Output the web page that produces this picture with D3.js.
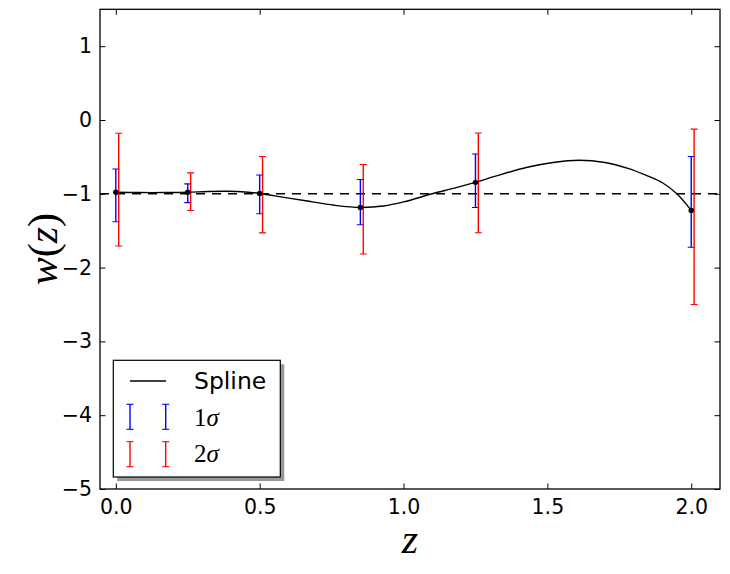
<!DOCTYPE html>
<html>
<head>
<meta charset="utf-8">
<script src="https://cdn.jsdelivr.net/npm/d3@7"></script>
<style>
  html, body { margin: 0; padding: 0; background: #fff; }
  svg { display: block; }
</style>
</head>
<body>
<svg id="chart" width="730" height="574"></svg>
<script>
// ---- data ----
const zNodes   = [0.0, 0.25, 0.5, 0.85, 1.25, 2.0];
const wNodes   = [-0.98, -0.98, -0.995, -1.185, -0.845, -1.225];
const sig1Lo   = [-1.378, -1.12, -1.27, -1.42, -1.185, -1.724];
const sig1Hi   = [-0.663, -0.866, -0.745, -0.807, -0.46, -0.495];
const sig2Lo   = [-1.707, -1.226, -1.53, -1.815, -1.528, -2.5];
const sig2Hi   = [-0.18, -0.717, -0.495, -0.603, -0.177, -0.124];
const sig2Shift = 0.01;

const splineZ = [0.0, 0.08, 0.17, 0.25, 0.32, 0.39, 0.45, 0.5, 0.58, 0.66, 0.76, 0.85, 0.93, 1.0, 1.1, 1.18, 1.25, 1.32, 1.43, 1.52, 1.61, 1.7, 1.78, 1.85, 1.9, 1.95, 2.0];
const splineW = [-0.98, -0.983, -0.983, -0.98, -0.968, -0.965, -0.975, -0.995, -1.045, -1.095, -1.155, -1.185, -1.165, -1.11, -1.0, -0.92, -0.845, -0.76, -0.64, -0.575, -0.545, -0.575, -0.655, -0.76, -0.85, -1.0, -1.225];

const referenceW = -1;
const xTicks = [0.0, 0.5, 1.0, 1.5, 2.0];
const yTicks = [-5, -4, -3, -2, -1, 0, 1];
const xDomain = [-0.055, 2.1];
const yDomain = [-5, 1.5];

// ---- layout ----
const svg = d3.select("#chart");
const L = 100, R = 720, T = 9.3, B = 489;
const x = d3.scaleLinear().domain(xDomain).range([L, R]);
const y = d3.scaleLinear().domain(yDomain).range([B, T]);

svg.append("rect").attr("width", 730).attr("height", 574).attr("fill", "#fff");

const defs = svg.append("defs");
defs.append("clipPath").attr("id", "clip")
  .append("rect").attr("x", L).attr("y", T).attr("width", R - L).attr("height", B - T);

const plot = svg.append("g").attr("clip-path", "url(#clip)");

// dashed reference line
plot.append("line")
  .attr("x1", L).attr("x2", R)
  .attr("y1", y(referenceW)).attr("y2", y(referenceW))
  .attr("stroke", "#000").attr("stroke-width", 1.4)
  .attr("stroke-dasharray", "9,7");

// error bars
function errorBars(lo, hi, shift, color) {
  const g = plot.append("g");
  zNodes.forEach((z, i) => {
    const xc = x(z + shift);
    g.append("line").attr("x1", xc).attr("x2", xc)
      .attr("y1", y(lo[i])).attr("y2", y(hi[i]))
      .attr("stroke", color).attr("stroke-width", 1.4);
    [lo[i], hi[i]].forEach(v => {
      g.append("line").attr("x1", xc - 3.5).attr("x2", xc + 3.5)
        .attr("y1", y(v)).attr("y2", y(v))
        .attr("stroke", color).attr("stroke-width", 1.1);
    });
  });
}
errorBars(sig1Lo, sig1Hi, 0, "#0000ff");
errorBars(sig2Lo, sig2Hi, sig2Shift, "#ff0000");

// spline
const splinePts = splineZ.map((z, i) => [z, splineW[i]]);
plot.append("path")
  .datum(splinePts)
  .attr("fill", "none").attr("stroke", "#000").attr("stroke-width", 1.4)
  .attr("d", d3.line().x(d => x(d[0])).y(d => y(d[1])).curve(d3.curveCatmullRom.alpha(0.5)));

// node points
plot.selectAll("circle.node").data(zNodes).join("circle")
  .attr("class", "node")
  .attr("cx", d => x(d)).attr("cy", (d, i) => y(wNodes[i]))
  .attr("r", 2.7).attr("fill", "#000");

// ---- frame & axes ----
const tickLen = 5.5;
const axisFont = "'DejaVu Sans', sans-serif";
const fmtX = d3.format(".1f");

const xAxisB = d3.axisBottom(x).tickValues(xTicks).tickSize(-tickLen).tickPadding(10).tickFormat(fmtX);
const xAxisT = d3.axisTop(x).tickValues(xTicks).tickSize(-tickLen).tickFormat("");
const yAxisL = d3.axisLeft(y).tickValues(yTicks).tickSize(-tickLen).tickPadding(8).tickFormat(d3.format("d"));
const yAxisR = d3.axisRight(y).tickValues(yTicks).tickSize(-tickLen).tickFormat("");

function styleAxis(g) {
  g.select(".domain").remove();
  g.selectAll(".tick line").attr("stroke", "#000").attr("stroke-width", 1);
  g.selectAll(".tick text").attr("fill", "#000")
    .style("font-family", axisFont).style("font-size", "20.5px");
}
svg.append("g").attr("transform", `translate(0,${B})`).call(xAxisB).call(styleAxis);
svg.append("g").attr("transform", `translate(0,${T})`).call(xAxisT).call(styleAxis);
svg.append("g").attr("transform", `translate(${L},0)`).call(yAxisL).call(styleAxis);
svg.append("g").attr("transform", `translate(${R},0)`).call(yAxisR).call(styleAxis);

svg.append("rect")
  .attr("x", L).attr("y", T).attr("width", R - L).attr("height", B - T)
  .attr("fill", "none").attr("stroke", "#000").attr("stroke-width", 1.3);

// axis labels
svg.append("text")
  .attr("x", (L + R) / 2).attr("y", 553)
  .attr("text-anchor", "middle")
  .style("font-family", "'Liberation Serif', serif").style("font-style", "italic")
  .style("font-size", "42px")
  .text("z");

svg.append("text")
  .attr("transform", `translate(57,${(T + B) / 2}) rotate(-90)`)
  .attr("text-anchor", "middle")
  .style("font-family", "'Liberation Serif', serif")
  .style("font-size", "42px")
  .call(t => {
    t.append("tspan").style("font-style", "italic").text("w");
    t.append("tspan").text("(");
    t.append("tspan").style("font-style", "italic").text("z");
    t.append("tspan").text(")");
  });

// ---- legend ----
const lg = svg.append("g");
const lx = 113.3, ly = 360.3, lw = 167, lh = 116.7;
lg.append("rect").attr("x", lx + 4).attr("y", ly + 4).attr("width", lw).attr("height", lh).attr("fill", "#999");
lg.append("rect").attr("x", lx).attr("y", ly).attr("width", lw).attr("height", lh)
  .attr("fill", "#fff").attr("stroke", "#000").attr("stroke-width", 1.2);

lg.append("line").attr("x1", 130).attr("x2", 166).attr("y1", 381).attr("y2", 381)
  .attr("stroke", "#000").attr("stroke-width", 1.4);
lg.append("text").attr("x", 194).attr("y", 388.5)
  .style("font-family", axisFont).style("font-size", "23.5px").text("Spline");

const legendBars = [
  { color: "#0000ff", top: 404.3, bot: 429.3, num: "1", base: 426 },
  { color: "#ff0000", top: 441.7, bot: 466.7, num: "2", base: 462 }
];
legendBars.forEach(b => {
  [130, 165.7].forEach(xc => {
    lg.append("line").attr("x1", xc).attr("x2", xc).attr("y1", b.top).attr("y2", b.bot)
      .attr("stroke", b.color).attr("stroke-width", 1.4);
    [b.top, b.bot].forEach(v => lg.append("line").attr("x1", xc - 3.5).attr("x2", xc + 3.5)
      .attr("y1", v).attr("y2", v).attr("stroke", b.color).attr("stroke-width", 1.1));
  });
  const t = lg.append("text").attr("x", 194).attr("y", b.base)
    .style("font-family", "'Liberation Serif', serif").style("font-size", "25px");
  t.append("tspan").text(b.num);
  t.append("tspan").style("font-style", "italic").text("σ");
});
</script>
</body>
</html>
